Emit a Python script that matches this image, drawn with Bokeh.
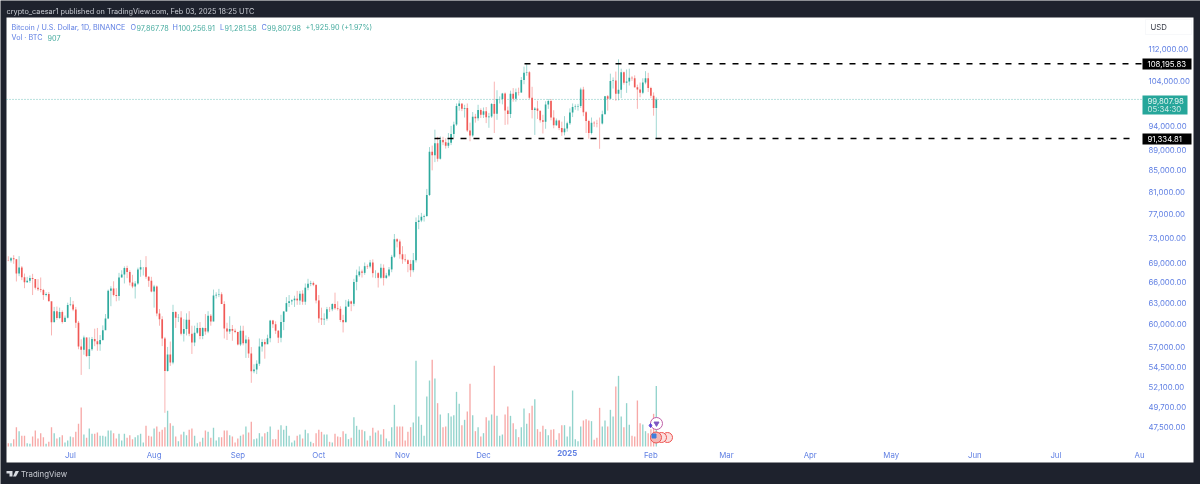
import math
from bokeh.plotting import figure
from bokeh.embed import file_html
from bokeh.resources import INLINE
from bokeh.models import (ColumnDataSource, FixedTicker, Label, LinearAxis, LogAxis, NumeralTickFormatter,
                          Range1d, BoxAnnotation, PolyAnnotation, LinearScale)

closes = [69300,69650,69500,67320,68240,66750,66000,66190,66640,66490,65150,64960,64830,64100,64260,63210,60280,61800,60860,61670,60320,60900,62670,
62760,62020,60200,57040,56640,58230,55850,56700,58040,57720,57340,57890,59200,60800,64720,65040,64090,63970,66700,67150,68160,67550,65930,65370,65780,67900,68250,68250,66800,66190,64620,
65350,61490,60690,58110,53990,56030,55020,61700,60880,60940,58710,59350,60600,58730,57560,58870,59480,58440,59490,59010,61160,60380,64040,64160,64220,62830,59410,59030,59370,59120,58970,
57300,59130,57480,57970,56160,53950,54160,54870,57050,57640,57340,58130,60500,60000,59130,58210,60310,61760,62940,63190,63350,63580,63330,64300,63140,65180,65770,65870,65600,63330,
60800,60650,60750,62080,62060,62820,62220,62130,60580,60270,62450,63190,62850,66040,67040,67610,67400,68430,68360,69000,67360,67360,66650,68170,66640,67010,67930,69900,72730,72340,70290,
69490,69370,68780,67810,69360,75640,75900,76540,76680,80370,88650,87950,90400,87250,91060,90600,89850,90460,92310,94290,98350,98900,97700,97900,93010,91960,95960,95640,97460,96410,
97190,95860,96000,98770,96600,99880,99920,101170,97360,96590,101120,99980,101420,101370,104300,106030,106140,100200,97460,97760,97290,95190,94880,98680,99430,95790,94160,95160,93530,92640,93430,
94590,96890,98100,98230,98310,102080,96950,95040,92480,94700,94570,94520,94500,96530,100500,99980,104080,104170,101090,102010,106150,103650,103960,104820,104710,102620,102080,101330,103730,104730,102430,
100630,97868,99808]

opens = [69350,69300,69650,69500,67320,68240,66750,66000,66190,66640,66490,65150,64960,64830,64100,64260,63210,60280,61800,60860,61670,60320,60900,
62670,62760,62020,60200,57040,56640,58230,55850,56700,58040,57720,57340,57890,59200,60800,64720,65040,64090,63970,66700,67150,68160,67550,65930,65370,65780,67900,68250,68250,66800,66190,
64620,65350,61490,60690,58110,53990,56030,55020,61700,60880,60940,58710,59350,60600,58730,57560,58870,59480,58440,59490,59010,61160,60380,64040,64160,64220,62830,59410,59030,59370,59120,
58970,57300,59130,57480,57970,56160,53950,54160,54870,57050,57640,57340,58130,60500,60000,59130,58210,60310,61760,62940,63190,63350,63580,63330,64300,63140,65180,65770,65870,65600,
63330,60800,60650,60750,62080,62060,62820,62220,62130,60580,60270,62450,63190,62850,66040,67040,67610,67400,68430,68360,69000,67360,67360,66650,68170,66640,67010,67930,69900,72730,72340,
70290,69490,69370,68780,67810,69360,75640,75900,76540,76680,80370,88650,87950,90400,87250,91060,90600,89850,90460,92310,94290,98350,98900,97700,97900,93010,91960,95960,95640,97460,
96410,97190,95860,96000,98770,96600,99880,99920,101170,97360,96590,101120,99980,101420,101370,104300,106030,106140,100200,97460,97760,97290,95190,94880,98680,99430,95790,94160,95160,93530,92640,
93430,94590,96890,98100,98230,98310,102080,96950,95040,92480,94700,94570,94520,94500,96530,100500,99980,104080,104170,101090,102010,106150,103650,103960,104820,104710,102620,102080,101330,103730,104730,
102430,100630,97868]

highs = [69980,69850,70150,69560,70000,68450,67300,66800,67000,67250,66000,66450,66700,65000,64500,64550,62400,62400,62450,62300,61900,61200,63000,
63800,63250,62400,60450,58000,58480,58240,58250,58300,59400,59500,58550,59850,61400,64900,65400,66130,65100,67400,67800,68400,68500,67800,67100,66150,68200,69400,68300,70000,66900,66800,
65600,65500,62100,61100,58300,57000,57700,62700,61800,61400,61800,60700,61500,61800,59800,59800,60200,60300,59600,61400,61800,61400,64900,64500,65000,64500,63200,60200,61100,59900,59400,
59000,59800,59800,58500,58300,56980,54800,55300,58100,58000,58000,58600,60600,60600,60400,59200,61300,61800,63800,64100,63500,64000,64700,64700,64800,65800,66500,66200,66100,65500,
64100,62300,61500,62400,62400,62900,64450,63200,62500,61300,63400,63500,63300,66500,67900,68400,67900,69000,68700,69400,69500,67800,67500,68800,68700,67400,68300,70200,73600,72900,72700,
71600,70300,69500,69400,70500,76400,76800,77200,76900,81500,89600,89900,93200,91700,91800,91700,91400,92500,94000,94900,98900,99600,98700,98600,98900,94700,97000,96600,98600,97800,
98000,98100,96800,99000,103900,101900,100500,101300,101400,98200,101800,102400,102300,102500,105000,107500,108200,106400,102700,98100,99500,97300,96400,99400,99900,99900,97400,95600,95300,94900,96100,
94900,97800,98900,98700,98800,102500,102700,97200,95300,95800,95000,95300,95800,97300,100600,100800,105800,104900,106300,109300,107000,106300,106800,107000,105200,105400,103200,103700,104700,106400,106000,
102700,101400,100257]

lows = [69200,69000,68800,66100,66900,66300,65100,65900,65900,64100,64900,64700,64500,63400,63900,63200,58500,60700,60600,60700,60100,60600,60800,
62500,61800,59500,56700,53500,56000,55700,54200,56500,57100,56500,56500,57800,59400,60700,62500,63900,63200,63300,66700,65800,66600,65500,65100,63600,65600,66800,67000,66500,65300,64500,
62300,61100,59800,57100,49100,53900,54600,54800,59500,60300,58500,57700,58500,58400,56100,57100,58700,58000,58000,58600,58800,59800,60400,63600,63800,62800,58100,57900,58700,57800,58800,
57200,57100,57200,55600,55600,52550,53700,53600,54600,56400,55500,57400,57600,59500,58700,57500,57600,59200,61700,62400,62700,62400,62700,62700,62700,62700,64800,65400,65400,62900,
60200,59900,59900,60500,61700,61800,62000,61900,60300,58900,60400,62400,61800,62500,64800,66800,66700,67100,68000,68100,66700,66600,65200,66500,65500,66500,66800,67500,69700,71400,69600,
68800,69100,67500,66800,67500,69000,74400,75600,75700,76500,80200,85000,86600,86700,87100,90000,89300,89400,90000,91500,94000,97300,97200,95800,92700,90800,91700,94700,95100,95700,
95700,94600,93600,95700,92500,95300,98900,98700,94200,94300,95700,99300,99300,100700,101300,103300,105300,99900,95600,92100,95500,94700,92400,93400,97700,95200,93500,94000,93100,91900,92000,
92800,94200,95900,97500,97300,97900,96100,92500,91300,92200,93800,93700,89250,94300,96500,97300,100000,102300,99500,99600,100100,103200,101300,103000,104100,102500,97700,100300,101000,103300,101500,
100100,96200,91282]

volumes = [50,50,110,290,230,160,160,50,40,150,240,120,200,140,40,70,290,200,120,140,170,60,90,150,140,220,340,585,180,130,270,190,190,210,160,160,150,240,240,200,120,190,90,190,130,170,110,140,170,190,60,310,160,150,270,300,220,250,290,535,350,310,150,80,180,220,170,250,270,160,50,70,130,240,220,130,280,90,140,140,240,240,170,150,60,120,160,180,300,210,370,110,120,200,150,200,220,300,110,110,250,320,250,310,160,60,90,160,180,120,250,200,70,50,200,250,220,180,180,70,60,190,150,
140,230,190,110,130,440,310,250,250,230,90,160,280,210,240,180,260,120,80,290,625,300,300,300,90,220,290,360,1285,450,325,160,750,990,1300,1020,650,480,290,300,500,450,470,820,640,320,400,525,940,470,230,290,150,200,440,390,480,1210,460,160,180,480,600,460,350,260,140,290,570,340,500,610,710,260,220,310,260,170,250,260,100,200,320,320,150,300,840,110,80,300,390,410,390,380,100,130,580,300,390,300,550,450,900,1060,450,290,650,325,160,150,690,350,330,230,200,260,490,907]

tick_days = [23,54,85,115,146,176,238,266,297,327,358,388,419]
tick_labels = ["Jul","Aug","Sep","Oct","Nov","Dec","Feb","Mar","Apr","May","Jun","Jul","Au"]
year_day = 207
year_label = "2025"
price_ticks = [112000,104000,94000,89000,85000,81000,77000,73000,69000,66000,63000,60000,57000,54500,52100,49700,47500]
resistance_price = 108195.83
support_price = 91334.81
last_price = 99807.98

BG = "#1e222d"; UP = "#26a69a"; DOWN = "#ef5350"; BLUE = "#5f7fe3"; TEAL_TXT = "#46ab9f"
FONT = "Inter"

px_x = lambda px: (px - 7.8) / 2.7
px_y = lambda py: 112000 * math.exp((48 - py) / 441.8)

n = len(closes)
xs = list(range(n))
vols = (volumes + [0] * n)[:n]
cols = [UP if c >= o else DOWN for o, c in zip(opens, closes)]
vcols = ["#92d3cc" if c >= o else "#f7a9a7" for o, c in zip(opens, closes)]
src = ColumnDataSource(dict(x=xs, o=opens, c=closes, h=highs, l=lows, v=vols, col=cols, vcol=vcols))

p = figure(width=1200, height=484, output_backend="svg", toolbar_location=None, y_axis_type="log",
           x_range=Range1d(px_x(0), px_x(1200)), y_range=Range1d(px_y(484), px_y(0)),
           x_axis_location=None, y_axis_location=None,
           min_border_left=0, min_border_right=0, min_border_top=0, min_border_bottom=0,
           background_fill_color=BG, border_fill_color=BG, outline_line_color=None)
p.grid.visible = False
p.styles = {"position": "fixed", "left": "0", "top": "0"}
p.extra_y_ranges = {"vol": Range1d(-38 * 15, 446 * 15)}
p.extra_y_scales = {"vol": LinearScale()}

p.add_layout(BoxAnnotation(left=px_x(6), right=px_x(1193), top=px_y(17), bottom=px_y(462),
                           fill_color="white", fill_alpha=1, line_color=None, level="underlay"))

p.vbar(x="x", width=0.5, bottom=0, top="v", fill_color="vcol", line_color=None, source=src, y_range_name="vol")

p.line([px_x(6), px_x(1142)], [last_price, last_price], line_color=UP, line_width=0.8, line_dash=[1, 2], line_alpha=0.8)

p.segment(x0="x", x1="x", y0="l", y1="h", line_color="col", line_width=0.8, line_alpha=0.55, source=src)
p.vbar(x="x", width=0.62, bottom="o", top="c", fill_color="col", line_color=None, fill_alpha=0.95, source=src)

p.line([px_x(524), px_x(1142)], [resistance_price, resistance_price], line_color="black", line_width=1.5, line_dash=[6, 7])
p.line([px_x(434), px_x(1135)], [support_price, support_price], line_color="black", line_width=1.5, line_dash=[6, 7])

# event icons
p.scatter([px_x(667), px_x(661)], [px_y(437), px_y(437)], size=10, fill_color="#fbdedd", line_color="#ef5350", line_width=1)
p.scatter([px_x(655.5)], [px_y(437)], size=11, fill_color="#f4b7b5", line_color="#ef5350", line_width=1)
p.scatter([px_x(653.5)], [px_y(435.5)], size=4, marker="square", color="#3f7fdc")
p.scatter([px_x(656)], [px_y(423)], size=12, fill_color="white", line_color="#c05fa8", line_width=1)
p.scatter([px_x(650)], [px_y(425)], size=4, marker="diamond", color="#5b3fd6")
p.scatter([px_x(656)], [px_y(423)], size=5, marker="inverted_triangle", color="#7e57c2")

# axes
yax = LogAxis(fixed_location=px_x(1148), ticker=FixedTicker(ticks=price_ticks),
              formatter=NumeralTickFormatter(format="0,0.00"),
              axis_line_color=None, major_tick_line_color=None, minor_tick_line_color=None,
              major_tick_out=0, major_tick_in=0, minor_tick_out=0, minor_tick_in=0,
              major_label_standoff=0, major_label_text_color=BLUE, major_label_text_font=FONT,
              major_label_text_font_size="7.8px")
p.add_layout(yax, "right")

def time_axis(days, labels, style):
    ax = LinearAxis(fixed_location=px_y(449), ticker=FixedTicker(ticks=days),
                    major_label_overrides=dict(zip(days, labels)),
                    axis_line_color=None, major_tick_line_color=None, minor_tick_line_color=None,
                    major_tick_out=0, major_tick_in=0, minor_tick_out=0, minor_tick_in=0,
                    major_label_standoff=0, major_label_text_color=BLUE, major_label_text_font=FONT,
                    major_label_text_font_size="7.8px", major_label_text_font_style=style)
    p.add_layout(ax, "below")

time_axis(tick_days, tick_labels, "normal")
time_axis([year_day], [year_label], "bold")

def txt(px, py, text, color, size="7.25px", style="normal", align="left"):
    p.add_layout(Label(x=px_x(px), y=px_y(py), text=text, text_color=color, text_font=FONT, text_font_size=size,
                       text_font_style=style, text_baseline="middle", text_align=align))

def box(l, r, t, b, fill, line=None):
    p.add_layout(BoxAnnotation(left=px_x(l), right=px_x(r), top=px_y(t), bottom=px_y(b), fill_color=fill, fill_alpha=1,
                               line_color=line, level="glyph"))

# header
txt(6, 10.5, "crypto_caesar1 published on TradingView.com, Feb 03, 2025 18:25 UTC", "#c9ccd3", "7.3px")
txt(11, 27, "Bitcoin / U.S. Dollar, 1D, BINANCE", BLUE)
for lx, letter, vx, value in [(130, "O", 136, "97,867.78"), (172, "H", 178, "100,256.91"),
                              (219.5, "L", 224, "91,281.58"), (261, "C", 266.5, "99,807.98")]:
    txt(lx, 27, letter, BLUE)
    txt(vx, 27, value, TEAL_TXT)
txt(305, 27, "+1,925.90 (+1.97%)", TEAL_TXT)
txt(11, 37, "Vol · BTC", BLUE)
txt(47, 37, "907", TEAL_TXT)

# right tags
box(1145, 1191, 19, 34, "white", "#e6e8ee")
txt(1150, 26.5, "USD", "#3a3e4a", "7.8px")
box(1142, 1191, 58, 69, "black")
txt(1147, 63.5, "108,195.83", "white", "7.8px")
box(1142, 1191, 133, 144, "black")
txt(1147, 138.5, "91,334.81", "white", "7.8px")
box(1142, 1187, 95, 114, UP)
txt(1147, 100, "99,807.98", "#e6f5f3", "7.8px")
txt(1147, 108, "05:34:30", "#cdeae6", "7.8px")

# footer logo
for poly in [[(6, 470.5), (12, 470.5), (12, 476), (9, 476), (9, 473), (6, 473)],
             [(15, 470.5), (18.5, 470.5), (15.5, 476), (12.5, 476)]]:
    p.add_layout(PolyAnnotation(xs=[px_x(a) for a, _ in poly], ys=[px_y(b) for _, b in poly],
                                fill_color="#d8dbe2", fill_alpha=1, line_color=None))
txt(20.5, 473.5, "TradingView", "#c9ccd3", "7.8px")

open("out.html", "w").write(file_html(p, INLINE))
